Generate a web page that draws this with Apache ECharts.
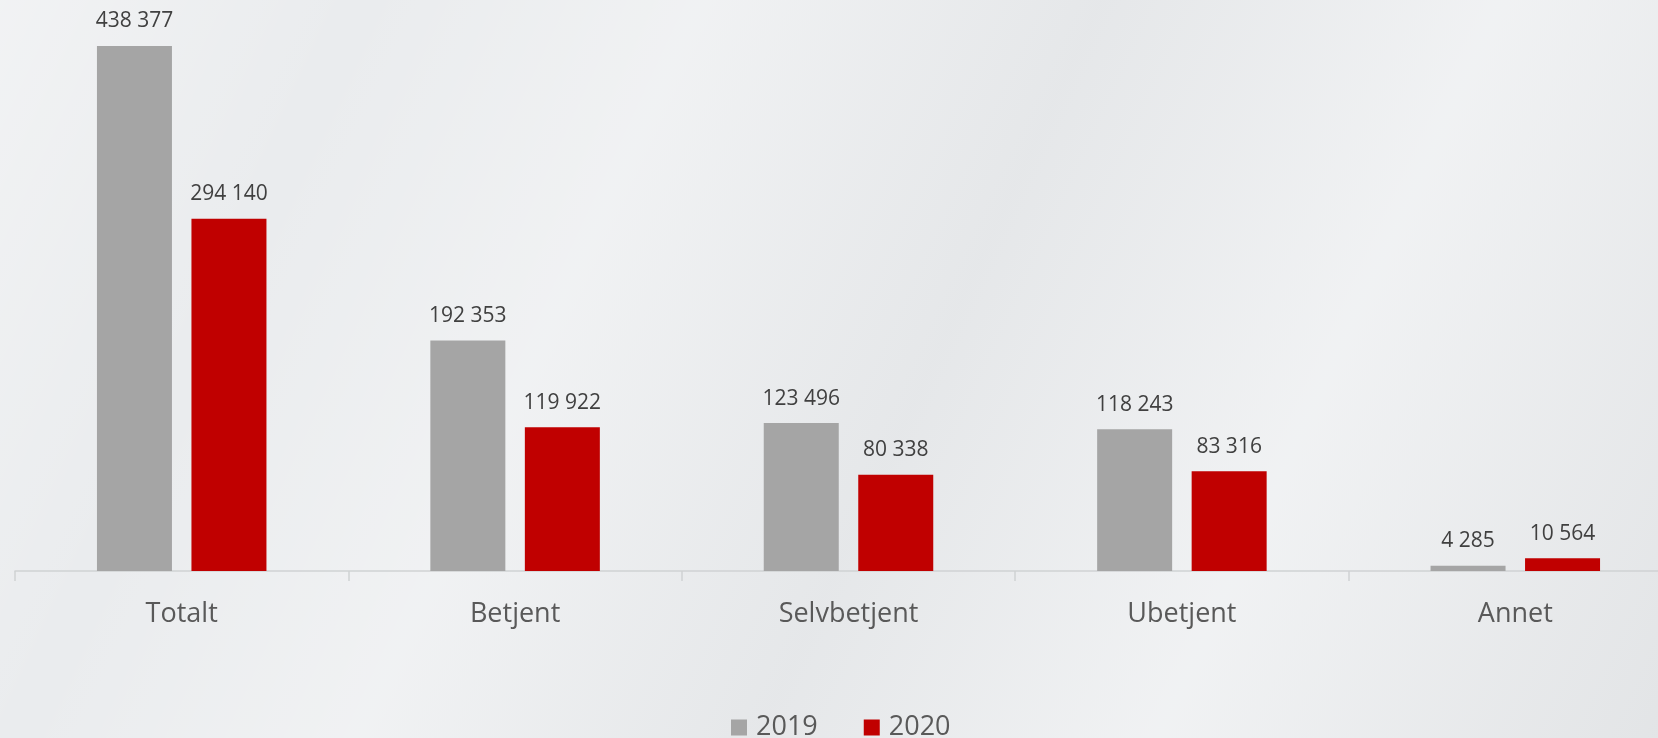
<!DOCTYPE html>
<html>
<head>
<meta charset="utf-8">
<script src="https://cdn.jsdelivr.net/npm/echarts@6/dist/echarts.min.js"></script>
<style>
  html, body { margin: 0; padding: 0; overflow: hidden; }
  body {
    width: 1658px; height: 738px;
    background:
      linear-gradient(115deg, rgba(255,255,255,0.35) 0%, rgba(255,255,255,0) 18%, rgba(255,255,255,0.3) 35%, rgba(0,0,0,0.02) 55%, rgba(255,255,255,0.3) 75%, rgba(0,0,0,0.03) 100%),
      #eaecee;
  }
  /* aksen går litt ut over høyre kant i originalen */
  #chart { width: 1700px; height: 738px; }
</style>
</head>
<body>
<div id="chart"></div>
<script>
const categories = ["Totalt", "Betjent", "Selvbetjent", "Ubetjent", "Annet"];
const values2019 = [438377, 192353, 123496, 118243, 4285];
const values2020 = [294140, 119922, 80338, 83316, 10564];

// tall med mellomrom som tusenskille
const fmt = (v) => String(v).replace(/\B(?=(\d{3})+(?!\d))/g, " ");

const myChart = echarts.init(document.getElementById("chart"));

const labelStyle = {
  show: true,
  position: "top",
  distance: 14,
  color: "#404040",
  fontSize: 21,
  fontFamily: "Open Sans",
  formatter: (p) => fmt(p.value),
};

myChart.setOption({
  backgroundColor: "transparent",
  animation: false,
  grid: { left: 15, width: 1667, top: 8, bottom: 167, containLabel: false },
  legend: {
    data: ["2019", "2020"],
    left: 726,
    bottom: -8,
    itemWidth: 16,
    itemHeight: 16,
    itemGap: 46,
    icon: "rect",
    textStyle: { color: "#595959", fontSize: 27, fontFamily: "Open Sans", padding: [0, 0, 0, 4] },
  },
  xAxis: {
    type: "category",
    data: categories,
    axisLine: { lineStyle: { color: "#d0d2d4", width: 1.5 } },
    axisTick: { show: true, length: 10, lineStyle: { color: "#d0d2d4", width: 1.5 } },
    axisLabel: { color: "#595959", fontSize: 27, fontFamily: "Open Sans", margin: 30 },
  },
  yAxis: {
    type: "value",
    min: 0,
    max: 470000,
    show: false,
    splitLine: { show: false },
  },
  series: [
    {
      name: "2019",
      type: "bar",
      data: values2019,
      barWidth: 75,
      barGap: "26%",
      itemStyle: { color: "#a5a5a5" },
      label: labelStyle,
    },
    {
      name: "2020",
      type: "bar",
      data: values2020,
      barWidth: 75,
      itemStyle: { color: "#c00000" },
      label: labelStyle,
    },
  ],
});
</script>
</body>
</html>
